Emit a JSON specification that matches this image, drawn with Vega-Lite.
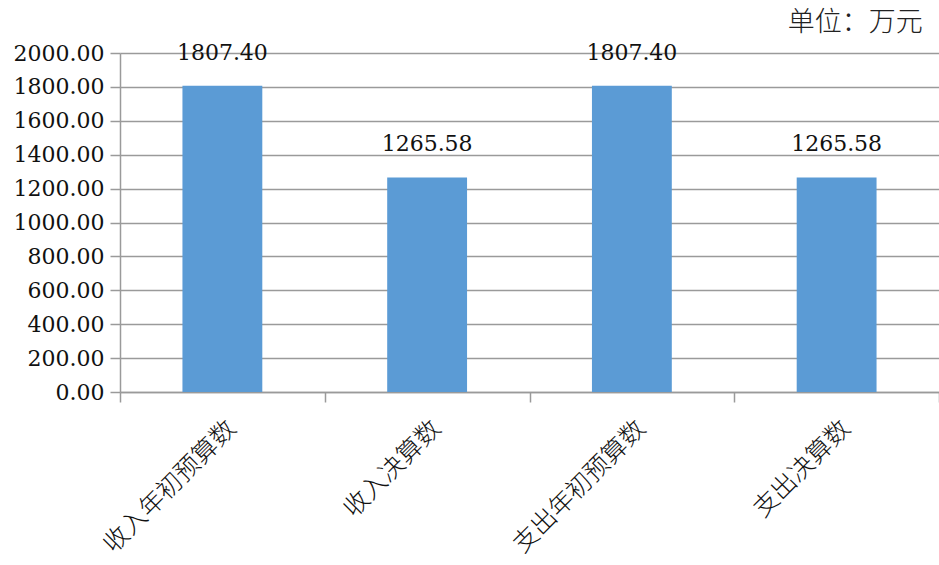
{
  "$schema": "https://vega.github.io/schema/vega-lite/v6.json",
  "autosize": "none",
  "width": 819,
  "height": 339,
  "padding": {"left": 120, "top": 53, "right": 0, "bottom": 173},
  "background": "white",
  "title": {
    "text": "单位：万元",
    "anchor": "end",
    "font": "Noto Sans CJK SC",
    "fontSize": 27,
    "fontWeight": 300,
    "color": "#222222",
    "offset": 5,
    "dx": -17
  },
  "data": {
    "values": [
      {"item": "收入年初预算数", "amount": 1807.40},
      {"item": "收入决算数", "amount": 1265.58},
      {"item": "支出年初预算数", "amount": 1807.40},
      {"item": "支出决算数", "amount": 1265.58}
    ]
  },
  "config": {
    "view": {"stroke": null},
    "axis": {"gridColor": "#9a9a9a", "gridWidth": 1.5, "domainColor": "#9a9a9a", "domainWidth": 1.5, "tickColor": "#9a9a9a", "tickWidth": 1.5}
  },
  "encoding": {
    "x": {
      "field": "item",
      "type": "nominal",
      "sort": null,
      "scale": {"paddingInner": 0, "paddingOuter": 0},
      "axis": {
        "title": null,
        "labelAngle": -45,
        "labelAlign": "right",
        "labelBaseline": "middle",
        "labelFont": "Noto Sans CJK SC",
        "labelFontSize": 25,
        "labelFontWeight": 300,
        "labelColor": "#111111",
        "labelPadding": 22,
        "labelOffset": 9,
        "labelLimit": 400,
        "tickBand": "extent",
        "tickSize": 10,
        "grid": false
      }
    },
    "y": {
      "field": "amount",
      "type": "quantitative",
      "scale": {"domain": [0, 2000], "nice": false},
      "axis": {
        "title": null,
        "values": [0, 200, 400, 600, 800, 1000, 1200, 1400, 1600, 1800, 2000],
        "format": ".2f",
        "labelFont": "DejaVu Serif",
        "labelFontSize": 22,
        "labelColor": "#111111",
        "labelPadding": 6,
        "tickSize": 10,
        "grid": true
      }
    }
  },
  "layer": [
    {
      "mark": {"type": "bar", "color": "#5B9BD5", "width": {"band": 0.39}}
    },
    {
      "mark": {"type": "text", "dy": -21, "font": "DejaVu Serif", "fontSize": 22, "color": "#111111", "baseline": "bottom"},
      "encoding": {"text": {"field": "amount", "type": "quantitative", "format": ".2f"}}
    }
  ]
}
